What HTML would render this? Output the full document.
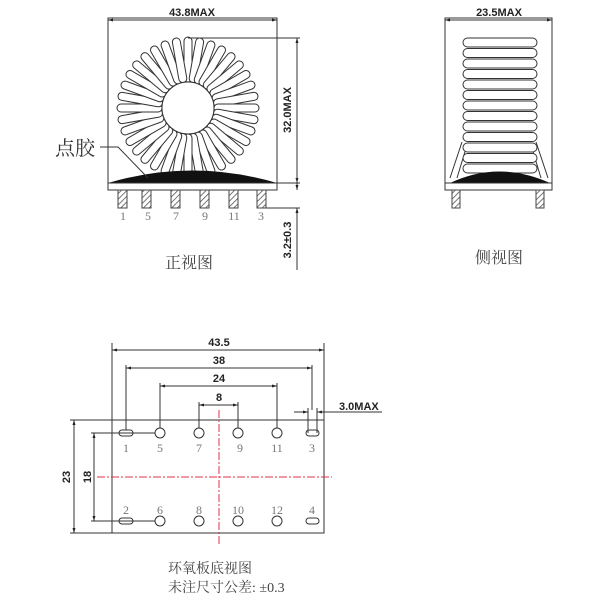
<!DOCTYPE html>
<html><head><meta charset="utf-8"><style>
body{margin:0;background:#fff}
svg{display:block}
.t{font-family:"Liberation Sans",sans-serif;font-weight:bold;font-size:11px;fill:#222}
.n{font-family:"Liberation Serif","Noto Serif CJK SC",serif;font-size:12px;fill:#777}
.c{font-family:"Liberation Serif","Noto Serif CJK SC",serif;font-size:15px;fill:#444}
</style></head><body>
<svg width="600" height="600" viewBox="0 0 600 600" xmlns="http://www.w3.org/2000/svg">
<defs>
<pattern id="h" width="4" height="4" patternUnits="userSpaceOnUse" patternTransform="rotate(45)">
<rect width="4" height="4" fill="#fff"/><line x1="0" y1="0" x2="0" y2="4" stroke="#555" stroke-width="1.6"/></pattern>
<rect id="w" x="-4" y="-71" width="8" height="45" rx="4" fill="#fff" stroke="#333" stroke-width="1"/>
<marker id="a" viewBox="0 0 10 10" refX="10" refY="5" markerWidth="7" markerHeight="5" orient="auto-start-reverse"><path d="M0,2L10,5L0,8z" fill="#222"/></marker>
</defs>
<g stroke="#333" fill="none" stroke-width="1">
<rect x="108" y="18" width="169" height="165"/>
<line x1="108" y1="20" x2="277" y2="20" marker-start="url(#a)" marker-end="url(#a)"/>
</g>
<text class="t" x="192" y="16" text-anchor="middle">43.8MAX</text>
<g>
<use href="#w" transform="translate(188,108) rotate(0)"/><use href="#w" transform="translate(188,108) rotate(10)"/><use href="#w" transform="translate(188,108) rotate(20)"/><use href="#w" transform="translate(188,108) rotate(30)"/><use href="#w" transform="translate(188,108) rotate(40)"/><use href="#w" transform="translate(188,108) rotate(50)"/><use href="#w" transform="translate(188,108) rotate(60)"/><use href="#w" transform="translate(188,108) rotate(70)"/><use href="#w" transform="translate(188,108) rotate(80)"/><use href="#w" transform="translate(188,108) rotate(90)"/><use href="#w" transform="translate(188,108) rotate(100)"/><use href="#w" transform="translate(188,108) rotate(110)"/><use href="#w" transform="translate(188,108) rotate(120)"/><use href="#w" transform="translate(188,108) rotate(130)"/><use href="#w" transform="translate(188,108) rotate(140)"/><use href="#w" transform="translate(188,108) rotate(150)"/><use href="#w" transform="translate(188,108) rotate(160)"/><use href="#w" transform="translate(188,108) rotate(170)"/><use href="#w" transform="translate(188,108) rotate(180)"/><use href="#w" transform="translate(188,108) rotate(190)"/><use href="#w" transform="translate(188,108) rotate(200)"/><use href="#w" transform="translate(188,108) rotate(210)"/><use href="#w" transform="translate(188,108) rotate(220)"/><use href="#w" transform="translate(188,108) rotate(230)"/><use href="#w" transform="translate(188,108) rotate(240)"/><use href="#w" transform="translate(188,108) rotate(250)"/><use href="#w" transform="translate(188,108) rotate(260)"/><use href="#w" transform="translate(188,108) rotate(270)"/><use href="#w" transform="translate(188,108) rotate(280)"/><use href="#w" transform="translate(188,108) rotate(290)"/><use href="#w" transform="translate(188,108) rotate(300)"/><use href="#w" transform="translate(188,108) rotate(310)"/><use href="#w" transform="translate(188,108) rotate(320)"/><use href="#w" transform="translate(188,108) rotate(330)"/><use href="#w" transform="translate(188,108) rotate(340)"/><use href="#w" transform="translate(188,108) rotate(350)"/>
<circle cx="188" cy="108" r="26" fill="#fff" stroke="#333"/>
</g>
<path d="M108,183 Q192,158 277,183 Z" fill="#111"/>
<rect x="108" y="183" width="169" height="7" fill="#fff" stroke="#333"/>
<g stroke="#444" stroke-width="1">
<rect x="118" y="190" width="9" height="18" fill="url(#h)"/>
<rect x="142" y="190" width="9" height="18" fill="url(#h)"/>
<rect x="171" y="190" width="9" height="18" fill="url(#h)"/>
<rect x="200" y="190" width="9" height="18" fill="url(#h)"/>
<rect x="229" y="190" width="9" height="18" fill="url(#h)"/>
<rect x="257" y="190" width="9" height="18" fill="url(#h)"/>
</g>
<g class="n" text-anchor="middle"><text x="123" y="220">1</text><text x="148" y="220">5</text><text x="176" y="220">7</text><text x="205" y="220">9</text><text x="234" y="220">11</text><text x="261" y="220">3</text></g>
<g stroke="#333" fill="none">
<line x1="188" y1="38" x2="300" y2="38"/>
<line x1="277" y1="183" x2="300" y2="183"/>
<line x1="297" y1="38" x2="297" y2="183" marker-start="url(#a)" marker-end="url(#a)"/>
<line x1="266" y1="208" x2="300" y2="208"/>
<line x1="297" y1="170" x2="297" y2="190" marker-end="url(#a)"/>
<line x1="297" y1="270" x2="297" y2="208" marker-end="url(#a)"/>
<polyline points="100,147 118,147 148,178"/>
</g>
<text class="t" transform="translate(291,110) rotate(-90)" text-anchor="middle">32.0MAX</text>
<text class="t" transform="translate(291,240) rotate(-90)" text-anchor="middle">3.2±0.3</text>
<text class="c" x="55" y="155" style="font-size:20px;fill:#333">点胶</text>
<text class="c" x="165" y="268" style="font-size:16px">正视图</text>
<g stroke="#333" fill="none">
<rect x="445" y="18" width="107" height="165"/>
<line x1="445" y1="20" x2="552" y2="20" marker-start="url(#a)" marker-end="url(#a)"/>
<path d="M462,142 L450,178 M467,145 L457,178 M536,142 L548,178 M531,145 L541,178"/>
</g>
<text class="t" x="499" y="16" text-anchor="middle">23.5MAX</text>
<g fill="#fff" stroke="#333">
<rect x="463" y="38" width="74" height="9" rx="4.5"/><rect x="463" y="48.5" width="74" height="9" rx="4.5"/><rect x="463" y="59" width="74" height="9" rx="4.5"/><rect x="463" y="69.5" width="74" height="9" rx="4.5"/><rect x="463" y="80" width="74" height="9" rx="4.5"/><rect x="463" y="90.5" width="74" height="9" rx="4.5"/><rect x="463" y="101" width="74" height="9" rx="4.5"/><rect x="463" y="111.5" width="74" height="9" rx="4.5"/><rect x="463" y="122" width="74" height="9" rx="4.5"/><rect x="463" y="132.5" width="74" height="9" rx="4.5"/><rect x="463" y="143" width="74" height="9" rx="4.5"/><rect x="463" y="153.5" width="74" height="9" rx="4.5"/><rect x="463" y="164" width="74" height="9" rx="4.5"/>
</g>
<path d="M450,183 Q499,160 550,183 Z" fill="#111"/>
<rect x="445" y="183" width="107" height="7" fill="#fff" stroke="#333"/>
<rect x="452" y="190" width="8" height="18" fill="url(#h)" stroke="#444"/>
<rect x="536" y="190" width="8" height="18" fill="url(#h)" stroke="#444"/>
<text class="c" x="475" y="263" style="font-size:16px">侧视图</text>
<g stroke="#333" fill="none">
<rect x="112" y="420" width="212" height="113"/>
<line x1="112" y1="343" x2="112" y2="420"/><line x1="324" y1="343" x2="324" y2="420"/>
<line x1="112" y1="350" x2="324" y2="350" marker-start="url(#a)" marker-end="url(#a)"/>
<line x1="126" y1="365" x2="126" y2="430"/><line x1="312" y1="365" x2="312" y2="410"/>
<line x1="126" y1="368" x2="312" y2="368" marker-start="url(#a)" marker-end="url(#a)"/>
<line x1="160" y1="383" x2="160" y2="428"/><line x1="277" y1="383" x2="277" y2="428"/>
<line x1="160" y1="386" x2="277" y2="386" marker-start="url(#a)" marker-end="url(#a)"/>
<line x1="199" y1="402" x2="199" y2="428"/><line x1="238" y1="402" x2="238" y2="428"/>
<line x1="199" y1="405" x2="238" y2="405" marker-start="url(#a)" marker-end="url(#a)"/>
<line x1="308" y1="408" x2="308" y2="433"/><line x1="317" y1="408" x2="317" y2="433"/>
<line x1="294" y1="412" x2="308" y2="412" marker-end="url(#a)"/>
<line x1="331" y1="412" x2="317" y2="412" marker-end="url(#a)"/>
<line x1="317" y1="412" x2="382" y2="412"/>
<line x1="70" y1="420" x2="112" y2="420"/><line x1="70" y1="533" x2="112" y2="533"/>
<line x1="74" y1="420" x2="74" y2="533" marker-start="url(#a)" marker-end="url(#a)"/>
<line x1="91" y1="433" x2="155" y2="433"/><line x1="91" y1="521" x2="155" y2="521"/>
<line x1="94" y1="433" x2="94" y2="521" marker-start="url(#a)" marker-end="url(#a)"/>
<circle cx="160" cy="433" r="5"/><circle cx="199" cy="433" r="5"/><circle cx="238" cy="433" r="5"/><circle cx="277" cy="433" r="5"/>
<circle cx="160" cy="521" r="5"/><circle cx="199" cy="521" r="5"/><circle cx="238" cy="521" r="5"/><circle cx="277" cy="521" r="5"/>
<rect x="119" y="430" width="14" height="6" rx="3"/><rect x="119" y="518" width="14" height="6" rx="3"/>
<rect x="306" y="430" width="13" height="6" rx="3"/><rect x="306" y="518" width="13" height="6" rx="3"/>
</g>
<g stroke="#e0304a" stroke-width="1" stroke-dasharray="8,2,2,2">
<line x1="219" y1="410" x2="219" y2="545"/>
<line x1="97" y1="477" x2="332" y2="477"/>
</g>
<text class="t" x="219" y="346" text-anchor="middle">43.5</text>
<text class="t" x="219" y="364" text-anchor="middle">38</text>
<text class="t" x="219" y="382" text-anchor="middle">24</text>
<text class="t" x="219" y="401" text-anchor="middle">8</text>
<text class="t" x="339" y="410">3.0MAX</text>
<text class="t" transform="translate(70,477) rotate(-90)" text-anchor="middle">23</text>
<text class="t" transform="translate(91,477) rotate(-90)" text-anchor="middle">18</text>
<g class="n" text-anchor="middle">
<text x="126" y="452">1</text><text x="160" y="452">5</text><text x="199" y="452">7</text><text x="240" y="452">9</text><text x="277" y="452">11</text><text x="312" y="452">3</text>
<text x="126" y="514">2</text><text x="160" y="514">6</text><text x="199" y="514">8</text><text x="238" y="514">10</text><text x="277" y="514">12</text><text x="312" y="514">4</text>
</g>
<text class="c" x="168" y="573" style="font-size:14px">环氧板底视图</text>
<text class="c" x="168" y="592" style="font-size:14px">未注尺寸公差: ±0.3</text>
</svg>
</body></html>
